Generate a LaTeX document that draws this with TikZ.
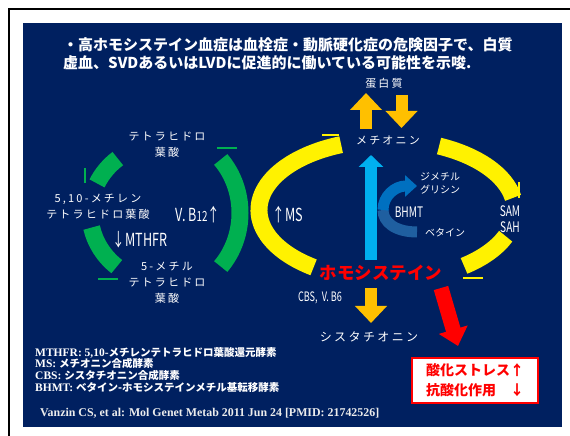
\documentclass[tikz,border=0pt]{standalone}
\usepackage{fontspec}
\setmainfont{Liberation Serif}
\newfontfamily\jp{Noto Sans CJK JP}
\newfontfamily\jpl{Noto Sans CJK JP}[LetterSpace=20]
\newfontfamily\jpn{Noto Sans CJK JP}[FakeStretch=0.7]
\usetikzlibrary{arrows.meta}
\definecolor{bgnavy}{HTML}{002060}
\definecolor{ppgreen}{HTML}{00B050}
\definecolor{ppgold}{HTML}{FFC000}
\definecolor{ppsky}{HTML}{00B0F0}
\definecolor{ppblue}{HTML}{0070C0}
\definecolor{ppsteel}{HTML}{1F5FA0}
\newcommand\fnjp[1]{{\jp\bfseries\fontsize{10.5}{12}\selectfont #1}}
\begin{document}
\begin{tikzpicture}[x=1pt,y=1pt,
  title/.style={text=white,font=\jp\bfseries\fontsize{15}{18}\selectfont,inner sep=0pt,anchor=west},
  lbl/.style={text=white,font=\jpl\fontsize{11}{16}\selectfont,inner sep=0pt,align=center},
  small/.style={text=white,font=\jp\fontsize{10}{13}\selectfont,inner sep=0pt,align=center},
  cond/.style={text=white,font=\jpn\fontsize{18}{20}\selectfont,inner sep=0pt},
  condsm/.style={text=white,font=\jpn\fontsize{14.5}{16}\selectfont,inner sep=0pt,align=center},
  note/.style={text=white,font=\bfseries\fontsize{11.5}{12}\selectfont,inner sep=0pt,anchor=west},
  yarc/.style={yellow,line width=17pt},
  garc/.style={ppgreen,line width=17pt},
  stub/.style={line width=1.6pt},
  goldarrow/.style={ppgold,line width=12pt,-{Triangle[length=17pt,width=31pt]}}]
\useasboundingbox (0,0) rectangle (570,436);
\fill[white] (0,0) rectangle (570,436);
\fill[bgnavy] (23,9) rectangle (562,413);
\draw[line width=2pt] (9,0) -- (9,427) -- (570,427);

% title
\node[title] (title1) at (63,391) {・高ホモシステイン血症は血栓症・動脈硬化症の危険因子で、白質};
\node[title] (title2) at (63,373) {虚血、SVDあるいはLVDに促進的に働いている可能性を示唆.};

% folate cycle
\coordinate (gcen) at (165,223);
\draw[garc] (gcen) ++(129:75 and 70) arc[start angle=129,end angle=155,x radius=75,y radius=70];
\draw[garc] (gcen) ++(192:75 and 70) arc[start angle=192,end angle=230,x radius=75,y radius=70];
\draw[garc] (gcen) ++(-42:75 and 80) arc[start angle=-42,end angle=42,x radius=75,y radius=80];
\draw[ppgreen,stub] (85,268) -- (85,253);
\draw[ppgreen,stub] (98,157) -- (118,157);
\draw[ppgreen,stub] (217,288) -- (237,288);
\node[lbl] (thf) at (167,291) {テトラヒドロ\\葉酸};
\node[lbl] (mthf) at (98,229) {5,10-メチレン\\テトラヒドロ葉酸};
\node[lbl] (methf) at (167,153) {5-メチル\\テトラヒドロ\\葉酸};
\node[cond] (vb12) at (198,221) {V. B{\fontsize{14}{14}\selectfont 12}↑};
\node[cond] (mthfr) at (140,196) {↓MTHFR};

% methionine cycle
\coordinate (ycen) at (387,226);
\draw[yarc] (ycen) ++(111:128 and 70) arc[start angle=111,end angle=235,x radius=128,y radius=70];
\draw[yarc] (ycen) ++(66:128 and 70) arc[start angle=66,end angle=10,x radius=128,y radius=70];
\draw[yarc] (ycen) ++(-22:128 and 70) arc[start angle=-22,end angle=-53,x radius=128,y radius=70];
\draw[yellow,stub] (322,301) -- (339,301);
\draw[yellow,stub] (519,254) -- (519,238);
\draw[yellow,stub] (463,158) -- (483,158);
\node[lbl] (prot) at (384,353) {蛋白質};
\node[lbl] (met) at (388,296) {メチオニン};
\node[text=red,font=\jp\bfseries\fontsize{17.5}{18}\selectfont,inner sep=0pt] (hcy) at (381,163) {ホモシステイン};
\node[lbl,font=\jpl\fontsize{12}{14}\selectfont] (cysta) at (369,99) {シスタチオニン};
\node[cond] (ms) at (288,221) {↑MS};
\node[condsm] (sam) at (510,217) {SAM\\SAH};
\node[condsm] (bhmt) at (409,224) {BHMT};
\node[condsm,font=\jpn\fontsize{13}{14}\selectfont] (cbs) at (320,138) {CBS,\ \ V. B6};
\node[small] (dmg) at (440,252.5) {ジメチル\\グリシン};
\node[small] (bet) at (445,203) {ベタイン};

\coordinate (metup) at (366,307);
\coordinate (protin) at (366,343);
\coordinate (protout) at (401.5,341);
\coordinate (metin) at (401.5,308);
\draw[goldarrow] (metup) -- (protin);
\draw[goldarrow] (protout) -- (metin);
\coordinate (hcydown) at (371,148);
\coordinate (cystain) at (371,113);
\draw[goldarrow] (hcydown) -- (cystain);

\coordinate (remet0) at (371,176);
\coordinate (remet1) at (371,281);
\draw[ppsky,line width=12pt,-{Triangle[length=12pt,width=24pt]}] (remet0) -- (remet1);
\coordinate (betin) at (417,204);
\coordinate (bhmtmid) at (383,226);
\coordinate (dmgtip) at (417,250);
\draw[ppsteel,line width=11pt] (betin) .. controls (395,204) and (383,214) .. (bhmtmid);
\draw[ppblue,line width=11pt,-{Triangle[length=12pt,width=21pt]}] (bhmtmid) .. controls (383,240) and (395,250) .. (dmgtip);

% oxidative stress
\coordinate (hcyox) at (441,148);
\coordinate (oxtip) at (458,90);
\draw[red,line width=15pt,-{Triangle[length=17pt,width=29pt]}] (hcyox) -- (oxtip);
\node[draw=red,line width=1.5pt,fill=white,minimum width=126pt,minimum height=45pt,inner sep=0pt,
  text=red,font=\jp\bfseries\fontsize{14}{20}\selectfont,align=left] (oxbox) at (475,55.5) {酸化ストレス↑\\抗酸化作用　↓};

% notes
\node[note] (n1) at (35,83) {MTHFR: 5,10-\fnjp{メチレンテトラヒドロ葉酸還元酵素}};
\node[note] (n2) at (35,72) {MS: \fnjp{メチオニン合成酵素}};
\node[note] (n3) at (35,60) {CBS: \fnjp{シスタチオニン合成酵素}};
\node[note] (n4) at (35,48) {BHMT: \fnjp{ベタイン-ホモシステインメチル基転移酵素}};
\node[note,text=gray!15,font=\bfseries\fontsize{11.9}{13}\selectfont] (ref) at (40,23) {Vanzin CS, et al: Mol Genet Metab 2011 Jun 24 [PMID: 21742526]};
\end{tikzpicture}
\end{document}
